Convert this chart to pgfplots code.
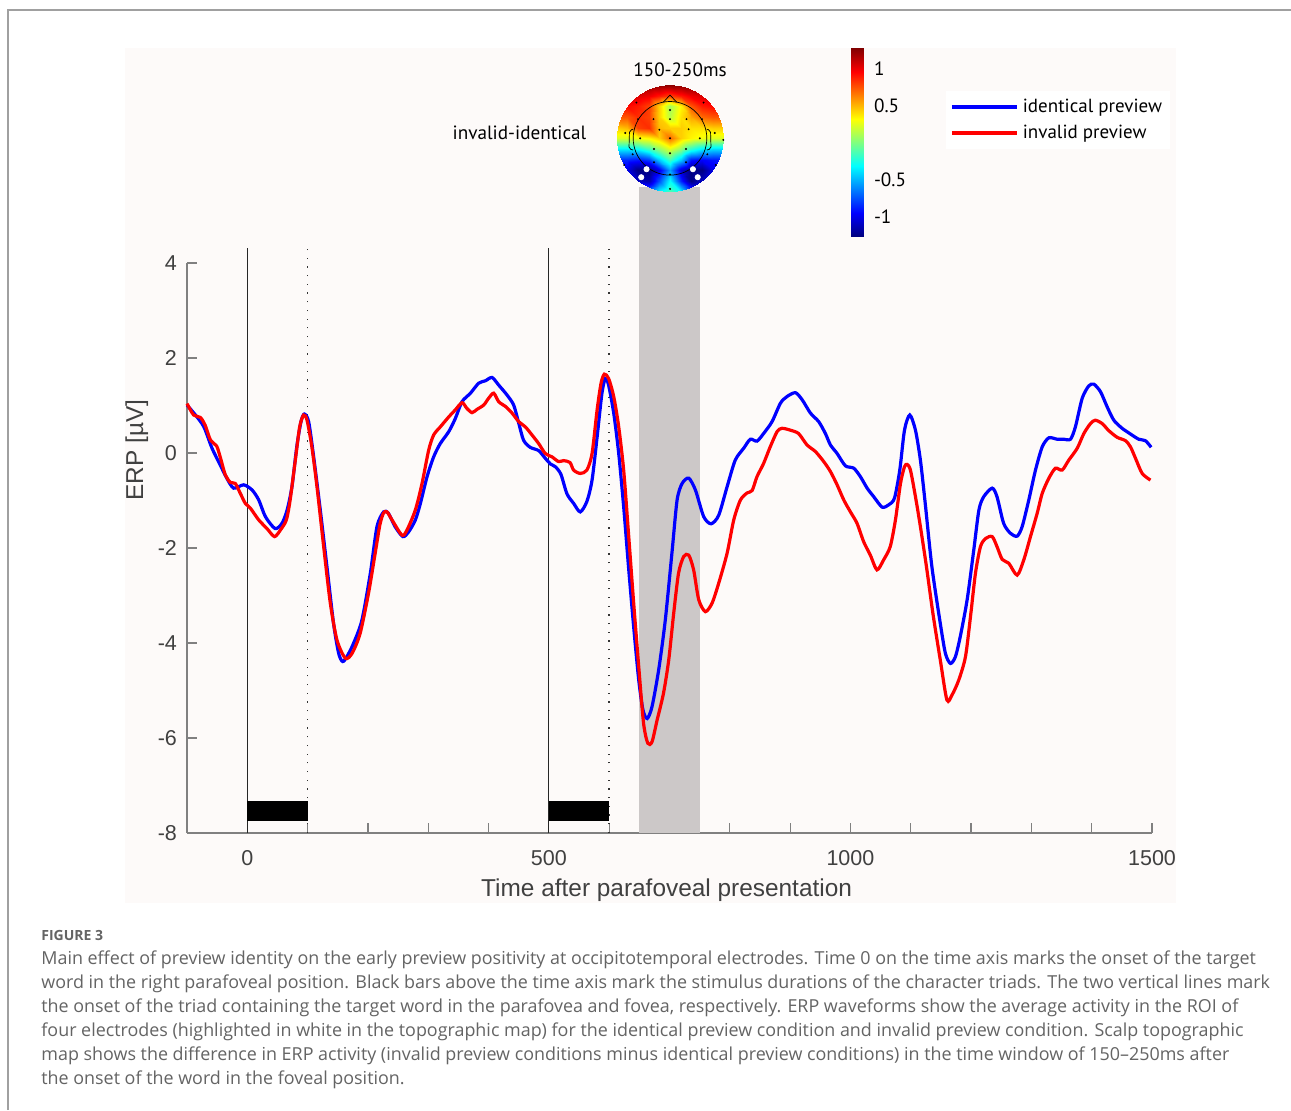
\documentclass[border=0pt]{standalone}
\usepackage{pgfplots}
\pgfplotsset{compat=1.18}
\usepackage{fontspec}
\setmainfont{Liberation Sans}
\newfontfamily\capfont{Open Sans}
\newfontfamily\myfont{PT Sans}
\definecolor{panelbg}{RGB}{253,250,249}
\definecolor{patchgray}{RGB}{204,200,200}
\definecolor{axgray}{RGB}{128,128,128}
\definecolor{lblgray}{RGB}{64,64,64}
\definecolor{capgray}{RGB}{100,100,100}
\definecolor{framegray}{RGB}{160,160,160}
\begin{document}
\begin{tikzpicture}
\path[use as bounding box] (0,0) rectangle (645.5pt,-555pt);
\fill[white] (0,0) rectangle (645.5pt,-555pt);
\begin{scope}[x=0.5pt,y=-0.5pt]
\draw[framegray, line width=0.7pt] (8,1110) -- (8,10) -- (1291,10);
\fill[panelbg] (125,48) rectangle (1176,903);
\node[anchor=base west, inner sep=0pt, font=\capfont\bfseries\fontsize{7}{8}\selectfont, text=capgray] at (41,940) {FIGURE 3};
\begin{scope}[every node/.style={anchor=base west, font=\capfont\fontsize{8.95}{10}\selectfont, text=capgray, inner sep=0pt}]
\node at (41,964) {Main effect of preview identity on the early preview positivity at occipitotemporal electrodes. Time 0 on the time axis marks the onset of the target};
\node at (41,988) {word in the right parafoveal position. Black bars above the time axis mark the stimulus durations of the character triads. The two vertical lines mark};
\node at (41,1012) {the onset of the triad containing the target word in the parafovea and fovea, respectively. ERP waveforms show the average activity in the ROI of};
\node at (41,1036) {four electrodes (highlighted in white in the topographic map) for the identical preview condition and invalid preview condition. Scalp topographic};
\node at (41,1060) {map shows the difference in ERP activity (invalid preview conditions minus identical preview conditions) in the time window of 150–250ms after};
\node at (41,1084) {the onset of the word in the foveal position.};
\end{scope}
\end{scope}

\begin{axis}[
  at={(93.5pt,-416.5pt)}, anchor=south west,
  scale only axis, width=482.5pt, height=285pt,
  xmin=-100, xmax=1500, ymin=-8, ymax=4,
  axis x line=bottom, axis y line=left,
  axis line style={-, axgray, line width=0.6pt},
  clip=false,
  xtick={0,500,1000,1500},
  minor xtick={100,200,300,400,600,700,800,900,1100,1200,1300,1400},
  ytick={-8,-6,...,4},
  tick align=inside,
  major tick length=5pt, minor tick length=5pt,
  every tick/.style={axgray, line width=0.6pt},
  tick label style={font=\fontsize{10.75}{12}\selectfont, text=lblgray},
  /pgf/number format/assume math mode=true,
  /pgf/number format/1000 sep={},
  yticklabel style={xshift=-1.5pt},
  xticklabel style={yshift=-5pt},
  xlabel={Time after parafoveal presentation},
  ylabel={ERP [µV]},
  label style={font=\fontsize{12.2}{14}\selectfont, text=lblgray},
  xlabel style={at={(axis description cs:0.497,-0.1)}, anchor=center},
  ylabel style={at={(axis description cs:-0.052,0.672)}, anchor=center},
  legend style={at={(axis description cs:0.786,1.302)}, anchor=north west, draw=none, fill=white,
    font=\myfont\fontsize{9.5}{11}\selectfont, legend cell align=left,
    row sep=0.5pt, inner xsep=2pt, inner ysep=2pt},
  legend image code/.code={\draw[#1, line width=2pt] (-2.5pt,0pt) -- (30pt,0pt);},
]
\addplot[fill=patchgray, draw=none, forget plot] coordinates {(650,-8) (750,-8) (750,5.6) (650,5.6)};
\addplot[black!85, line width=0.55pt, forget plot] coordinates {(0,-8) (0,4.32)};
\addplot[black!85, line width=0.55pt, forget plot] coordinates {(500,-8) (500,4.32)};
\addplot[black!80, line width=0.8pt, dash pattern=on 0.6pt off 3.75pt, forget plot] coordinates {(100,-8) (100,4.32)};
\addplot[black!80, line width=0.8pt, dash pattern=on 0.6pt off 3.75pt, forget plot] coordinates {(600,-8) (600,4.32)};
\addplot[fill=black, draw=none, forget plot] coordinates {(0,-7.75) (100,-7.75) (100,-7.33) (0,-7.33)};
\addplot[fill=black, draw=none, forget plot] coordinates {(500,-7.75) (600,-7.75) (600,-7.33) (500,-7.33)};

\addplot[blue, line width=1.6pt, smooth, tension=0.45] coordinates {
(-100,1.01) (-86,0.80) (-72,0.55) (-58.5,0.10) (-45,-0.25) (-34,-0.53) (-22.7,-0.74) (-6,-0.67)
(8,-0.78) (19,-0.99) (30,-1.34) (46,-1.59) (57.5,-1.48) (66,-1.20) (74,-0.71) (82,0.13) (89,0.66)
(94.5,0.82) (101.7,0.66) (110,-0.08) (121,-1.20) (132,-2.39) (143,-3.59) (151.5,-4.22) (158,-4.39)
(165,-4.29) (176,-4.01) (190,-3.52) (204,-2.53) (215,-1.55) (226,-1.24) (234,-1.27) (245,-1.55)
(258,-1.76) (267.5,-1.66) (278.6,-1.41) (287,-1.06) (298,-0.50) (309,-0.08) (320,0.20) (334,0.45)
(345,0.73) (356,1.08) (370,1.26) (383.6,1.47) (394.7,1.52) (405.8,1.59) (416.8,1.43) (430.7,1.22)
(441.6,1.01) (450,0.63) (458,0.27) (469,0.12) (483,0.05) (494,-0.11) (502.5,-0.23) (510.8,-0.29)
(520,-0.45) (530,-0.86) (541,-1.06) (552,-1.24) (563,-1.02) (571.6,-0.57) (580,0.34) (588,1.26)
(593.7,1.57) (599,1.43) (607.5,0.84) (615.8,-0.01) (624,-1.13) (632,-2.39) (640.6,-3.66) (649,-4.78)
(656,-5.41) (663,-5.59) (671,-5.34) (682,-4.57) (693,-3.52) (704,-2.11) (712.6,-0.99) (721,-0.64)
(731.9,-0.53) (743,-0.78) (756.7,-1.34) (769,-1.49) (781.6,-1.31) (795.5,-0.71) (809,-0.15) (823,0.10)
(834,0.29) (845,0.25) (856,0.41) (870,0.66) (884,1.05) (895,1.19) (908.8,1.27) (920,1.12) (933.7,0.84)
(947.4,0.66) (958.5,0.41) (966.8,0.17) (977.9,-0.01) (991.7,-0.27) (1005.5,-0.32) (1016.6,-0.50)
(1027.7,-0.74) (1038.6,-0.92) (1052.6,-1.14) (1063.5,-1.09) (1073,-0.95) (1081.8,-0.36) (1089.6,0.48)
(1098.4,0.80) (1107.8,0.48) (1116,-0.15) (1124,-1.06) (1135,-2.39) (1149,-3.59) (1157.5,-4.22)
(1165.8,-4.43) (1174,-4.29) (1182,-3.87) (1193.5,-3.09) (1204.5,-2.04) (1213,-1.20) (1221,-0.92)
(1235,-0.74) (1243,-0.92) (1254,-1.48) (1265.3,-1.69) (1276.4,-1.75) (1284.7,-1.55) (1295.7,-0.99)
(1306.8,-0.36) (1318,0.13) (1329,0.32) (1342.7,0.29) (1353.7,0.29) (1364.8,0.29) (1373,0.55)
(1384.2,1.15) (1395,1.41) (1403.5,1.45) (1414.6,1.29) (1425.7,0.97) (1436.7,0.69) (1450.5,0.52)
(1464.3,0.40) (1478,0.29) (1489,0.26) (1498.6,0.12)};
\addlegendentry{identical preview}
\addplot[red, line width=1.6pt, smooth, tension=0.45] coordinates {
(-100,1.04) (-89,0.80) (-78,0.75) (-70,0.59) (-61,0.27) (-51,0.15) (-45,-0.08) (-36.5,-0.46) (-28,-0.62)
(-20,-0.64) (-11.6,-0.85) (-3.3,-1.06) (5,-1.16) (19,-1.41) (32.6,-1.59) (45,-1.76) (55,-1.62)
(64.7,-1.41) (71,-0.99) (79.6,-0.15) (86.8,0.55) (93.4,0.80) (99,0.69) (107,0.13) (115.5,-0.71)
(126.6,-1.97) (137.6,-3.16) (148.7,-3.94) (162.5,-4.32) (173.6,-4.22) (187,-3.80) (201,-2.95)
(212,-2.11) (220,-1.50) (226,-1.26) (231.7,-1.24) (240,-1.41) (256.5,-1.73) (264.8,-1.62) (278.6,-1.20)
(289.7,-0.64) (300.7,0.06) (309,0.38) (320,0.55) (334,0.76) (345,0.91) (356,1.06) (364,0.94)
(372.6,0.85) (381,0.92) (392,1.01) (400,1.15) (408.5,1.26) (416.8,1.08) (428,0.98) (439,0.84)
(450,0.66) (461,0.55) (472,0.38) (483,0.20) (494,-0.01) (505,-0.08) (516,-0.18) (524.5,-0.16)
(535,-0.20) (541,-0.36) (552,-0.43) (563,-0.36) (571.6,-0.01) (580,0.91) (586.5,1.47) (592,1.66)
(599,1.57) (607.5,1.19) (615.8,0.55) (624,-0.36) (632,-1.69) (640.6,-3.16) (649,-4.50) (657,-5.69)
(664,-6.11) (671,-6.08) (679.5,-5.62) (690,-5.06) (698.7,-4.36) (707,-3.37) (715,-2.53) (723.5,-2.18)
(731.9,-2.15) (740,-2.46) (748.5,-3.09) (759.5,-3.34) (770.6,-3.16) (781.6,-2.74) (795.5,-2.11)
(806.5,-1.41) (817.6,-0.99) (828.7,-0.84) (837,-0.79) (845,-0.50) (856,-0.22) (867,0.13) (878.4,0.45)
(886.7,0.52) (900.5,0.48) (914,0.41) (928,0.17) (942,0.03) (955.7,-0.18) (966.8,-0.39) (977.9,-0.67)
(989,-0.99) (1000,-1.24) (1010.9,-1.48) (1022,-1.87) (1033,-2.15) (1044,-2.46) (1055,-2.25)
(1066,-1.97) (1074.6,-1.41) (1083,-0.64) (1089.6,-0.29) (1094,-0.24) (1099.5,-0.36) (1107.8,-0.92)
(1116,-1.55) (1126,-2.39) (1137,-3.40) (1149,-4.36) (1160,-5.20) (1168.6,-5.09) (1179.6,-4.78)
(1190.7,-4.29) (1199,-3.45) (1207.3,-2.53) (1215.6,-1.97) (1224,-1.80) (1235,-1.76) (1243,-1.97)
(1251.6,-2.24) (1262.5,-2.32) (1276.4,-2.57) (1287.4,-2.25) (1298.5,-1.76) (1309.6,-1.27) (1318,-0.85)
(1329,-0.53) (1340,-0.32) (1351,-0.36) (1362,-0.15) (1376,0.10) (1387,0.41) (1398,0.62) (1406,0.69)
(1417.4,0.62) (1428.4,0.47) (1442.3,0.33) (1456,0.26) (1464.3,0.13) (1472.6,-0.11) (1483.7,-0.43)
(1497.5,-0.57)};
\addlegendentry{invalid preview}
\end{axis}

% colorbar
\begin{axis}[
  at={(425.5pt,-24pt)}, anchor=north west,
  scale only axis, width=6.5pt, height=94pt,
  xmin=0, xmax=1, ymin=-1.26, ymax=1.28,
  view={0}{90}, colormap/jet,
  point meta min=-1.26, point meta max=1.28,
  axis line style={draw=none},
  xtick=\empty, ytick={-1,-0.5,0.5,1},
  yticklabel pos=right,
  major tick length=0pt,
  tick label style={font=\myfont\fontsize{9.6}{11}\selectfont, text=black},
  /pgf/number format/assume math mode=true,
  yticklabel style={anchor=west, xshift=1.5pt},
]
\addplot3[surf, shader=interp] coordinates {
(0,-1.26,-1.26) (1,-1.26,-1.26)

(0,-0.9425,-0.9425) (1,-0.9425,-0.9425)

(0,-0.3075,-0.3075) (1,-0.3075,-0.3075)

(0,0.3275,0.3275) (1,0.3275,0.3275)

(0,0.9625,0.9625) (1,0.9625,0.9625)

(0,1.28,1.28) (1,1.28,1.28)
};
\end{axis}

\begin{scope}[x=0.5pt,y=-0.5pt]
\node[font=\myfont\fontsize{9.6}{11}\selectfont, anchor=center] at (680,70) {150-250ms};
\node[font=\myfont\fontsize{9.6}{11}\selectfont, anchor=center] at (519.5,133) {invalid-identical};
\end{scope}

% topomap
\begin{axis}[
  at={(335pt,-69.15pt)}, anchor=center,
  scale only axis, width=53.3pt, height=53.3pt,
  xmin=-1, xmax=1, ymin=-1, ymax=1,
  hide axis, view={0}{90}, colormap/jet,
  point meta min=-1.26, point meta max=1.28,
  clip=false,
]
\clip (axis cs:0,0,0) circle[radius=26.65pt];
\addplot3[surf, shader=interp] coordinates {
(-1,-1,-0.5) (-0.8,-1,-0.55) (-0.6,-1,-0.7) (-0.4,-1,-0.6) (-0.2,-1,-0.3) (0,-1,-0.1) (0.2,-1,-0.3) (0.4,-1,-0.7) (0.6,-1,-0.75) (0.8,-1,-0.6) (1,-1,-0.5)

(-1,-0.8,-0.85) (-0.8,-0.8,-0.9) (-0.6,-0.8,-1.1) (-0.4,-0.8,-1.15) (-0.2,-0.8,-0.75) (0,-0.8,-0.3) (0.2,-0.8,-0.85) (0.4,-0.8,-1.25) (0.6,-0.8,-1.1) (0.8,-0.8,-0.9) (1,-0.8,-0.85)

(-1,-0.6,-0.95) (-0.8,-0.6,-1.0) (-0.6,-0.6,-1.25) (-0.4,-0.6,-1.3) (-0.2,-0.6,-1.0) (0,-0.6,-0.55) (0.2,-0.6,-1.05) (0.4,-0.6,-1.3) (0.6,-0.6,-1.25) (0.8,-0.6,-1.0) (1,-0.6,-0.95)

(-1,-0.4,-0.85) (-0.8,-0.4,-0.85) (-0.6,-0.4,-0.9) (-0.4,-0.4,-0.8) (-0.2,-0.4,-0.45) (0,-0.4,-0.15) (0.2,-0.4,-0.45) (0.4,-0.4,-0.9) (0.6,-0.4,-0.95) (0.8,-0.4,-0.9) (1,-0.4,-0.9)

(-1,-0.2,-0.35) (-0.8,-0.2,-0.35) (-0.6,-0.2,-0.3) (-0.4,-0.2,-0.15) (-0.2,-0.2,0.05) (0,-0.2,0.25) (0.2,-0.2,0.05) (0.4,-0.2,-0.2) (0.6,-0.2,-0.35) (0.8,-0.2,-0.4) (1,-0.2,-0.4)

(-1,0,0.25) (-0.8,0,0.25) (-0.6,0,0.3) (-0.4,0,0.35) (-0.2,0,0.45) (0,0,0.7) (0.2,0,0.45) (0.4,0,0.35) (0.6,0,0.3) (0.8,0,0.25) (1,0,0.25)

(-1,0.2,0.45) (-0.8,0.2,0.5) (-0.6,0.2,0.8) (-0.4,0.2,0.85) (-0.2,0.2,0.5) (0,0.2,0.45) (0.2,0.2,0.45) (0.4,0.2,0.4) (0.6,0.2,0.4) (0.8,0.2,0.45) (1,0.2,0.45)

(-1,0.4,0.75) (-0.8,0.4,0.75) (-0.6,0.4,0.85) (-0.4,0.4,0.8) (-0.2,0.4,0.45) (0,0.4,0.15) (0.2,0.4,0.4) (0.4,0.4,0.55) (0.6,0.4,0.7) (0.8,0.4,0.75) (1,0.4,0.75)

(-1,0.6,0.95) (-0.8,0.6,0.95) (-0.6,0.6,0.9) (-0.4,0.6,0.8) (-0.2,0.6,0.45) (0,0.6,0.1) (0.2,0.6,0.35) (0.4,0.6,0.75) (0.6,0.6,0.9) (0.8,0.6,0.95) (1,0.6,0.95)

(-1,0.8,1.1) (-0.8,0.8,1.1) (-0.6,0.8,1.05) (-0.4,0.8,1.0) (-0.2,0.8,0.9) (0,0.8,0.8) (0.2,0.8,0.9) (0.4,0.8,1.0) (0.6,0.8,1.05) (0.8,0.8,1.1) (1,0.8,1.1)

(-1,1,1.25) (-0.8,1,1.25) (-0.6,1,1.25) (-0.4,1,1.25) (-0.2,1,1.25) (0,1,1.25) (0.2,1,1.25) (0.4,1,1.25) (0.6,1,1.25) (0.8,1,1.25) (1,1,1.25)
};
\draw[black, line width=0.35pt] (axis cs:0,0,2) circle[radius=18.4pt];
\draw[black, line width=0.35pt] (axis cs:-0.125,0.68,2) -- (axis cs:0,0.81,2) -- (axis cs:0.125,0.68,2);
\draw[black, line width=0.35pt, rounded corners=1pt] (axis cs:-0.69,0.17,2) -- (axis cs:-0.76,0.15,2) -- (axis cs:-0.77,-0.2,2) -- (axis cs:-0.69,-0.22,2);
\draw[black, line width=0.35pt, rounded corners=1pt] (axis cs:0.69,0.17,2) -- (axis cs:0.76,0.15,2) -- (axis cs:0.77,-0.2,2) -- (axis cs:0.69,-0.22,2);
\addplot3[only marks, mark=*, mark size=0.25pt, black] coordinates {
(-0.63,0.67,2) (0.63,0.67,2) (0,0.53,2) (-0.31,0.36,2) (0,0.36,2) (0.31,0.36,2) (-0.6,0.36,2) (0.6,0.36,2)
(-0.84,0.1,2) (0.84,0.1,2) (-0.2,0.16,2) (0.35,0.17,2) (-0.56,0,2) (0,0,2) (0.56,0,2) (1.0,-0.03,2)
(-0.3,-0.2,2) (0.3,-0.2,2) (-0.7,-0.3,2) (0.7,-0.3,2) (0,-0.28,2) (-0.3,-0.45,2) (0.3,-0.45,2)
(0,-0.68,2) (-0.86,-0.5,2) (0.86,-0.5,2) (0,-0.95,2)};
\addplot3[only marks, mark=*, mark size=1.3pt, white] coordinates {
(-0.44,-0.58,2) (-0.54,-0.73,2) (0.43,-0.58,2) (0.52,-0.73,2)};
\end{axis}
\end{tikzpicture}
\end{document}
